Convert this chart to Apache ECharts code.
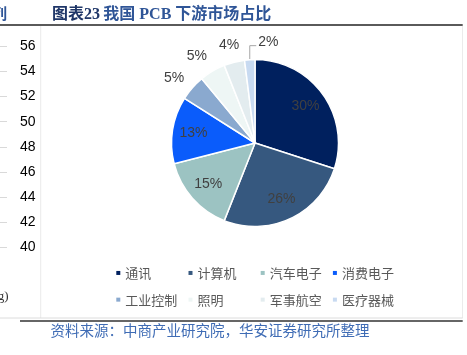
<!DOCTYPE html>
<html>
<head>
<meta charset="utf-8">
<script src="https://cdn.jsdelivr.net/npm/echarts@6/dist/echarts.min.js"></script>
<style>
html,body{margin:0;padding:0;background:#fff;}
#chart{width:467px;height:355px;}
</style>
</head>
<body>
<div id="chart"></div>
<script>
// ---- data ----
var categories = ['通讯', '计算机', '汽车电子', '消费电子', '工业控制', '照明', '军事航空', '医疗器械'];
var shares = [30, 26, 15, 13, 5, 5, 4, 2];
var sliceColors = ['#00205e', '#36587f', '#9cc3c2', '#0a5cfb', '#8aa9cf', '#eef6f5', '#e3ecef', '#c8daf1'];
var leftAxisTicks = [40, 42, 44, 46, 48, 50, 52, 54, 56];
var titleNumber = '图表23';
var titleText = '我国 PCB 下游市场占比';
var sourceText = '资料来源：中商产业研究院，华安证券研究所整理';

var innerLabelIdx = [0, 1, 2, 3];
var outerLabelIdx = [4, 5, 6];
var leaderLabelIdx = 7;

var chart = echarts.init(document.getElementById('chart'), null, {renderer: 'canvas'});

var labelFont = {color: '#404040', fontSize: 14, fontFamily: 'Liberation Sans, Arial, sans-serif'};

// small nudges for the outside labels (style only)
var outerNudge = {4: [-7, 0], 5: [-8, -2], 6: [-1.5, -2]};

function buildData(showIdx) {
  return categories.map(function (name, i) {
    var d = {name: name, value: shares[i]};
    if (showIdx.indexOf(i) >= 0) {
      d.label = {show: true};
      if (outerNudge[i]) d.label.offset = outerNudge[i];
    } else {
      d.label = {show: false};
    }
    return d;
  });
}

var CX = 255, CY = 143, R = 83.5;

var mainData = categories.map(function (name, i) {
  var d = {name: name, value: shares[i], itemStyle: {color: sliceColors[i]}};
  if (i === leaderLabelIdx) {
    d.label = {show: true, position: 'outside'};
    d.labelLine = {show: true, length: 14, length2: 6};
  } else {
    d.label = {show: false};
    d.labelLine = {show: false};
  }
  return d;
});

var option = {
  animation: false,
  backgroundColor: '#ffffff',
  grid: {left: -50, right: 460, top: 46.5, bottom: 108, containLabel: false, outerBoundsMode: 'none'},
  xAxis: {type: 'value', show: false, min: 0, max: 1},
  yAxis: {
    type: 'value', position: 'right',
    min: leftAxisTicks[0], max: leftAxisTicks[leftAxisTicks.length - 1],
    interval: leftAxisTicks[1] - leftAxisTicks[0],
    axisLine: {show: false}, axisTick: {show: false},
    axisLabel: {margin: 13, color: '#000', fontSize: 14, fontFamily: 'Liberation Sans, Arial, sans-serif'},
    splitLine: {lineStyle: {color: '#d9d9d9', width: 1}}
  },
  legend: {
    data: categories,
    left: 116.3, top: 263.2, width: 290, padding: 0,
    orient: 'horizontal',
    icon: 'rect', itemWidth: 4, itemHeight: 4, itemGap: 7.2,
    itemStyle: {borderWidth: 0},
    selectedMode: false,
    textStyle: {color: '#595959', fontSize: 13, fontFamily: 'Noto Sans CJK SC', width: 56, height: 19.5, lineHeight: 19.5}
  },
  series: [
    {
      type: 'pie', center: [CX, CY], radius: R, startAngle: 90, clockwise: true,
      avoidLabelOverlap: false,
      itemStyle: {borderColor: '#ffffff', borderWidth: 1.5},
      label: Object.assign({formatter: '{c}%'}, labelFont),
      labelLine: {lineStyle: {color: '#a6a6a6', width: 1}},
      labelLayout: function (p) {
        if (p.dataIndex !== leaderLabelIdx || !p.labelLinePoints) return {};
        var p0 = p.labelLinePoints[0];
        return {
          x: p0[0] + 8.5, y: p0[1] - 18, align: 'left', verticalAlign: 'middle',
          labelLinePoints: [[p0[0], p0[1]], [p0[0], p0[1] - 14], [p0[0] + 6.5, p0[1] - 14]]
        };
      },
      emphasis: {disabled: true},
      data: mainData
    },
    {
      type: 'pie', center: [CX, CY], radius: R * 1.42, startAngle: 90, clockwise: true,
      silent: true, avoidLabelOverlap: false,
      itemStyle: {color: 'rgba(0,0,0,0)', borderWidth: 0},
      label: Object.assign({position: 'inside', formatter: '{c}%'}, labelFont),
      labelLine: {show: false},
      emphasis: {disabled: true},
      data: buildData(innerLabelIdx)
    },
    {
      type: 'pie', center: [CX, CY], radius: 191, startAngle: 90, clockwise: true,
      silent: true, avoidLabelOverlap: false,
      itemStyle: {color: 'rgba(0,0,0,0)', borderWidth: 0},
      label: Object.assign({position: 'inside', formatter: '{c}%'}, labelFont),
      labelLine: {show: false},
      emphasis: {disabled: true},
      data: buildData(outerLabelIdx)
    }
  ],
  graphic: [
    {type: 'text', left: -8, top: 6, style: {text: '列', fill: '#2f5597', font: 'bold 15px "Noto Sans CJK SC"'}},
    {type: 'text', x: 52, y: 14.5, style: {
      text: '{a|' + titleNumber + '} {b|' + titleText + '}',
      verticalAlign: 'middle', align: 'left',
      rich: {
        a: {fill: '#1f3668', fontSize: 16, fontWeight: 'bold', fontFamily: 'Liberation Serif, "Noto Sans CJK SC"'},
        b: {fill: '#2f5597', fontSize: 16, fontWeight: 'bold', fontFamily: 'Liberation Serif, "Noto Sans CJK SC"'}
      }
    }},
    {type: 'line', shape: {x1: 0, y1: 25, x2: 462.7, y2: 25}, style: {stroke: '#5a5a5a', lineWidth: 2}},
    {type: 'line', shape: {x1: 40.7, y1: 26, x2: 40.7, y2: 318}, style: {stroke: '#ebebeb', lineWidth: 1}},
    {type: 'line', shape: {x1: 462.5, y1: 26, x2: 462.5, y2: 318}, style: {stroke: '#ebebeb', lineWidth: 1}},
    {type: 'line', shape: {x1: 0, y1: 318, x2: 462.7, y2: 318}, style: {stroke: '#dcdcdc', lineWidth: 1}},
    {type: 'line', shape: {x1: 20, y1: 321, x2: 462.7, y2: 321}, style: {stroke: '#333333', lineWidth: 1.5}},
    {type: 'text', x: 8.5, y: 297, style: {text: 'g)', align: 'right', verticalAlign: 'middle', fill: '#333', font: '13px "Liberation Serif"'}},
    {type: 'text', x: 50.5, y: 330.5, style: {text: sourceText, align: 'left', verticalAlign: 'middle', fill: '#3f6cb5', font: '14.5px "Noto Sans CJK SC"'}}
  ]
};

chart.setOption(option);
</script>
</body>
</html>
